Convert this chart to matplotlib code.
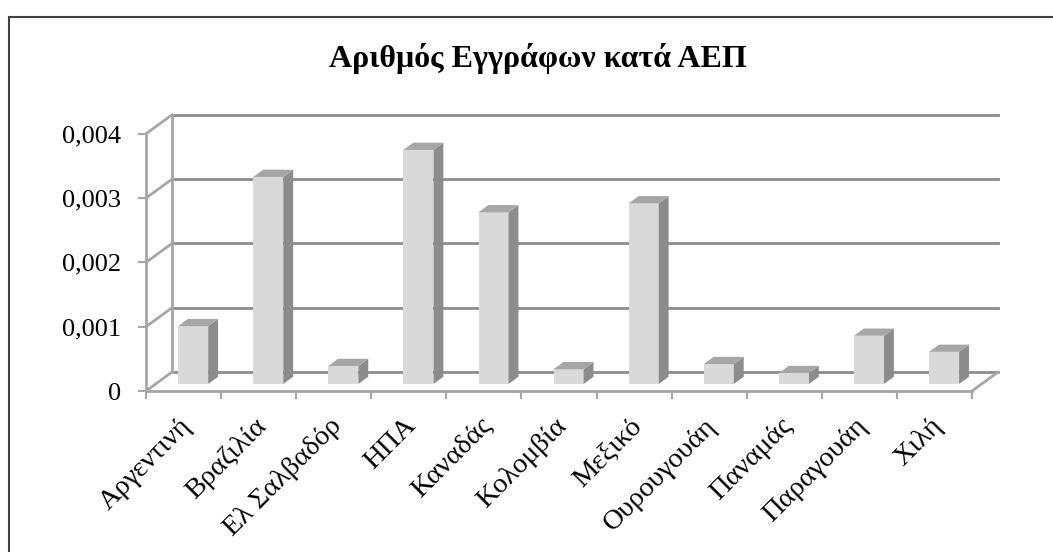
import numpy as np
import matplotlib
matplotlib.use("Agg")
import matplotlib.pyplot as plt
from matplotlib.patches import Polygon, Rectangle
from matplotlib.transforms import ScaledTranslation

plt.rcParams['font.family'] = ['Liberation Serif', 'DejaVu Serif']

countries = ['Αργεντινή', 'Βραζιλία', 'Ελ Σαλβαδόρ', 'ΗΠΑ', 'Καναδάς', 'Κολομβία',
             'Μεξικό', 'Ουρουγουάη', 'Παναμάς', 'Παραγουάη', 'Χιλή']
values = [0.00090, 0.00322, 0.00028, 0.00364, 0.00267, 0.00023,
          0.00281, 0.00031, 0.00017, 0.00075, 0.00050]
yticks = [0, 0.001, 0.002, 0.003, 0.004]
ylabels = ['0', '0,001', '0,002', '0,003', '0,004']
title = 'Αριθμός Εγγράφων κατά ΑΕΠ'

# oblique depth (full wall depth) in data units
DX, DY = 0.346, 0.000295
F0, F1 = 0.37, 0.75   # bar front / back depth fraction
BW = 0.4

fig = plt.figure(figsize=(10.53, 5.52), dpi=100)
W, H = 1053, 552
ax = fig.add_axes([146 / W, 161 / H, 852.3 / W, 276.5 / H])
ax.set_xlim(-0.5, 10.85)
ax.set_ylim(0, 0.0043)
ax.patch.set_visible(False)

n = len(countries)
x = np.arange(n)
xl, xr = -0.5, n - 0.5
gc = '#8c8c8c'
wc = '#a6a6a6'

# walls and gridlines
for g in yticks:
    ax.plot([xl + DX, xr + DX], [g + DY, g + DY], color=gc, lw=2, zorder=1, clip_on=False)
    ax.plot([xl, xl + DX], [g, g + DY], color=wc, lw=2, zorder=1, clip_on=False)
ax.plot([xl + DX, xl + DX], [DY, yticks[-1] + DY], color=wc, lw=2, zorder=1, clip_on=False)
ax.plot([xr, xr + DX], [0, DY], color=wc, lw=2, zorder=1, clip_on=False)

# bars: front faces
ox0, oy0 = F0 * DX, F0 * DY
ox1, oy1 = F1 * DX, F1 * DY
ax.bar(x + ox0, values, width=BW, bottom=oy0, color='#d9d9d9', zorder=3)
for xi, v in zip(x, values):
    left, right = xi + ox0 - BW / 2, xi + ox0 + BW / 2
    top = oy0 + v
    ddx, ddy = ox1 - ox0, oy1 - oy0
    side = [(right, oy0), (right + ddx, oy0 + ddy), (right + ddx, top + ddy), (right, top)]
    cap = [(left, top), (right, top), (right + ddx, top + ddy), (left + ddx, top + ddy)]
    ax.add_patch(Polygon(side, closed=True, fc='#8c8c8c', ec='none', zorder=3))
    ax.add_patch(Polygon(cap, closed=True, fc='#a6a6a6', ec='none', zorder=3))

# axes
for s in ['top', 'right']:
    ax.spines[s].set_visible(False)
ax.spines['left'].set_bounds(0, yticks[-1])
ax.spines['bottom'].set_bounds(xl, xr)
for s in ['left', 'bottom']:
    ax.spines[s].set_color(wc)
    ax.spines[s].set_linewidth(2)
ax.set_yticks(yticks)
ax.set_yticklabels(ylabels, fontsize=19)
ax.tick_params(axis='y', length=6, width=1.5, color=wc, pad=12)
ax.set_xticks(np.arange(xl, xr + 0.01, 1.0))
ax.set_xticklabels([])
ax.tick_params(axis='x', which='major', length=6, width=1.5, color=wc)
ax.set_xticks(x, minor=True)
ax.set_xticklabels(countries, minor=True, rotation=45, ha='right',
                   rotation_mode='anchor', fontsize=20.5)
ax.tick_params(axis='x', which='minor', length=0, pad=16)
shift = ScaledTranslation(-5 / 100, 0, fig.dpi_scale_trans)
for lab in ax.get_xticklabels(minor=True):
    lab.set_transform(lab.get_transform() + shift)

fig.text(538 / W, 1 - 58 / H, title, ha='center', va='center',
         fontsize=23, fontweight='bold')

# outer chart border
fig.patches.append(Rectangle((9 / W, -0.1), 1.2, 1.1 - 17 / H,
                             transform=fig.transFigure, fill=False,
                             ec='#404040', lw=1.5))

fig.savefig('out.png', dpi=100)
